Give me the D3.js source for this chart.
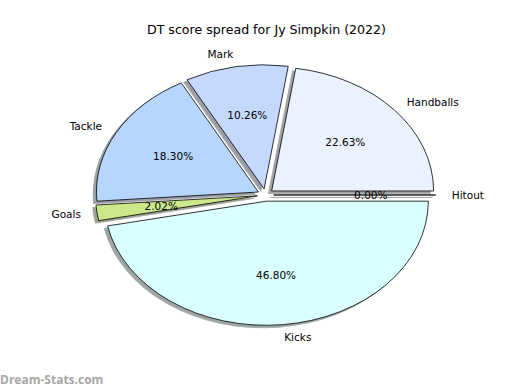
<!DOCTYPE html>
<html>
<head>
<meta charset="utf-8">
<script src="https://cdn.jsdelivr.net/npm/d3@7"></script>
<style>
  body { margin: 0; background: #fff; }
  svg { display: block; }
  text { font-family: "DejaVu Sans", sans-serif; fill: #000; }
</style>
</head>
<body>
<div id="chart"></div>
<script>
// slices in matplotlib order (counter-clockwise from 3 o'clock)
var labels = ["Hitout", "Handballs", "Mark", "Tackle", "Goals", "Kicks"];
var values = [0.00, 22.63, 10.26, 18.30, 2.02, 46.80];
var colors = ["#ffe4e4", "#eaf1ff", "#c5d9ff", "#b6d6ff", "#cbe98b", "#d9ffff"];
var explode = [0.05, 0.05, 0.05, 0.05, 0.05, 0.05];
var title = "DT score spread for Jy Simpkin (2022)";

var width = 520, height = 390;
var cx = 265.5, cy = 195, rx = 162, ry = 124;

var svg = d3.select("#chart").append("svg")
    .attr("width", width)
    .attr("height", height);

// data coords like matplotlib's pie axes (-1.25..1.25)
var x = d3.scaleLinear().domain([-1.25, 1.25]).range([cx - 1.25 * rx, cx + 1.25 * rx]);
var y = d3.scaleLinear().domain([-1.25, 1.25]).range([cy + 1.25 * ry, cy - 1.25 * ry]);
var sx = x(1) - x(0), sy = y(0) - y(1);

var total = d3.sum(values);
var pie = d3.pie().sort(null).startAngle(0).endAngle(2 * Math.PI);
var slices = pie(values).map(function (d, i) {
    var t1 = d.startAngle, t2 = d.endAngle, tm = (t1 + t2) / 2;
    var ox = explode[i] * Math.cos(tm), oy = explode[i] * Math.sin(tm);
    return { i: i, t1: t1, t2: t2, tm: tm, ox: ox, oy: oy, value: values[i] };
});

var arc = d3.arc().innerRadius(0).outerRadius(1);
function wedgePath(d) {
    // matplotlib angle -> d3 angle
    return arc({ startAngle: Math.PI / 2 - d.t2, endAngle: Math.PI / 2 - d.t1 });
}
function shade(c) {
    var r = d3.rgb(c);
    return d3.rgb(r.r * 0.3, r.g * 0.3, r.b * 0.3).toString();
}

// shadows first
svg.append("g").selectAll("path")
    .data(slices)
    .enter().append("path")
    .attr("d", wedgePath)
    .attr("transform", function (d) {
        return "translate(" + x(d.ox - 0.02) + "," + y(d.oy - 0.02) + ") scale(" + sx + "," + sy + ")";
    })
    .attr("fill", function (d) { return shade(colors[d.i]); })
    .attr("stroke", function (d) { return shade(colors[d.i]); })
    .attr("stroke-width", 0.8)
    .attr("vector-effect", "non-scaling-stroke")
    .attr("opacity", 0.5);

svg.append("g").selectAll("path")
    .data(slices)
    .enter().append("path")
    .attr("d", wedgePath)
    .attr("transform", function (d) {
        return "translate(" + x(d.ox) + "," + y(d.oy) + ") scale(" + sx + "," + sy + ")";
    })
    .attr("fill", function (d) { return colors[d.i]; })
    .attr("stroke", "#000")
    .attr("stroke-width", 0.8)
    .attr("vector-effect", "non-scaling-stroke");

// category labels at 1.1 radius
svg.append("g").selectAll("text")
    .data(slices)
    .enter().append("text")
    .attr("x", function (d) { return x(d.ox + 1.1 * Math.cos(d.tm)); })
    .attr("y", function (d) { return y(d.oy + 1.1 * Math.sin(d.tm)); })
    .attr("dy", "0.35em")
    .attr("text-anchor", function (d) { return Math.cos(d.tm) > 0 ? "start" : "end"; })
    .style("font-size", "10.5px")
    .text(function (d) { return labels[d.i]; });

// percentages at 0.6 radius
svg.append("g").selectAll("text")
    .data(slices)
    .enter().append("text")
    .attr("x", function (d) { return x(d.ox + 0.6 * Math.cos(d.tm)); })
    .attr("y", function (d) { return y(d.oy + 0.6 * Math.sin(d.tm)); })
    .attr("dy", "0.35em")
    .attr("text-anchor", "middle")
    .style("font-size", "10.5px")
    .text(function (d) { return (d.value / total * 100).toFixed(2) + "%"; });

svg.append("text")
    .attr("x", cx + 1)
    .attr("y", 34)
    .attr("text-anchor", "middle")
    .style("font-size", "12.6px")
    .text(title);

svg.append("text")
    .attr("x", 0)
    .attr("y", 384)
    .style("font-family", "'Open Sans', sans-serif")
    .style("font-weight", "bold")
    .style("font-size", "12px")
    .style("fill", "#a6a6a6")
    .text("Dream-Stats.com");
</script>
</body>
</html>
